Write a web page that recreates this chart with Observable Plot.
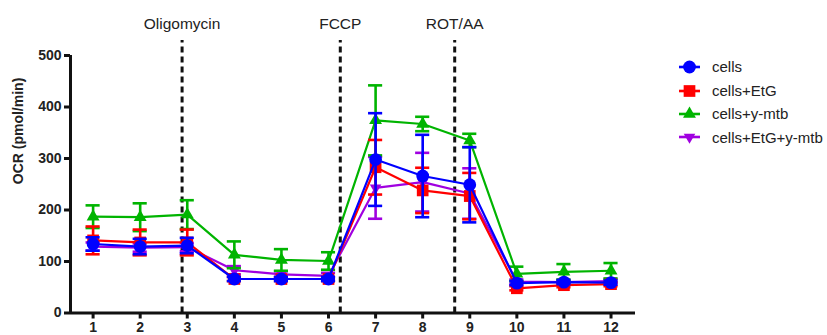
<!DOCTYPE html>
<html><head><meta charset="utf-8">
<script src="https://cdn.jsdelivr.net/npm/d3@7"></script>
<script src="https://cdn.jsdelivr.net/npm/@observablehq/plot@0.6"></script>
<style>
body{margin:0;background:#fff;font-family:"Liberation Sans",Arial,sans-serif;}
#wrap{position:relative;width:827px;height:335px;}
#legend{position:absolute;left:0;top:0;}
.item{position:absolute;display:flex;align-items:center;height:24px;font-size:15px;color:#222;white-space:nowrap;}
.item svg{margin-right:11px;}
#wrap svg.plot text{fill:#222;}
</style></head>
<body><div id="wrap"><div id="legend"></div></div>
<script>
const timepoints = [1,2,3,4,5,6,7,8,9,10,11,12];
const seriesNames = ["cells","cells+EtG","cells+y-mtb","cells+EtG+y-mtb"];
const seriesColors = ["#0000FF","#FF0000","#00B400","#A000E0"];

const cellsMean = [134,129,131,66,66,66,298,266,249,58,60,59];
const cellsSD   = [13,15,15,4,4,4,90,80,73,4,4,4];
const etgMean   = [141,137,137,66,66,66,283,238,227,48,54,56];
const etgSD     = [27,25,25,4,4,4,53,44,45,4,4,4];
const ymtbMean  = [187,186,191,113,103,101,374,367,335,76,80,82];
const ymtbSD    = [22,27,28,26,21,17,68,14,13,14,15,15];
const bothMean  = [129,127,128,83,75,72,243,254,232,61,60,62];
const bothSD    = [8,8,8,8,6,6,60,57,49,4,4,4];

const injections = ["Oligomycin","FCCP","ROT/AA"];
const injectionAt = [2.89,6.25,8.68];
const yTicks = [0,100,200,300,400,500];
const yTitle = "OCR (pmol/min)";

const triangleDown = {
  draw(ctx, size) {
    const y = -Math.sqrt(size / (3 * Math.sqrt(3)));
    ctx.moveTo(0, -2 * y);
    ctx.lineTo(-Math.sqrt(3) * y, y);
    ctx.lineTo(Math.sqrt(3) * y, y);
    ctx.closePath();
  }
};
const seriesSymbols = ["circle","square","triangle",triangleDown];
const seriesR = [6.4,6.6,4.8,4.3];

const means = [cellsMean, etgMean, ymtbMean, bothMean];
const sds = [cellsSD, etgSD, ymtbSD, bothSD];
const tables = seriesNames.map((name, s) => timepoints.map((t, i) => ({
  series: name, t, m: means[s][i], lo: means[s][i] - sds[s][i], hi: means[s][i] + sds[s][i]
})));
const injTable = injections.map((label, i) => ({label, x: injectionAt[i]}));

const drawOrder = [3,2,1,0];
const marks = [];
marks.push(Plot.ruleX(injTable, {x: "x", y1: 0, y2: 529, stroke: "#111", strokeWidth: 3, strokeDasharray: "6,4"}));
marks.push(Plot.text(injTable, {x: "x", y: 561, text: "label", fontSize: 15.5, fill: "#222"}));
const capW = 0.15;
for (const s of drawOrder) {
  const d = tables[s], c = seriesColors[s];
  marks.push(Plot.ruleX(d, {x: "t", y1: "lo", y2: "hi", stroke: c, strokeWidth: 2.6}));
  marks.push(Plot.ruleY(d, {y: "hi", x1: r => r.t - capW, x2: r => r.t + capW, stroke: c, strokeWidth: 2.6}));
  marks.push(Plot.ruleY(d, {y: "lo", x1: r => r.t - capW, x2: r => r.t + capW, stroke: c, strokeWidth: 2.6}));
  marks.push(Plot.line(d, {x: "t", y: "m", stroke: c, strokeWidth: 2.2}));
  marks.push(Plot.dot(d, {x: "t", y: "m", symbol: () => seriesSymbols[s], fill: c, stroke: "none", r: seriesR[s]}));
}
marks.push(Plot.ruleY([0], {stroke: "#111", strokeWidth: 3}));
marks.push(Plot.ruleX([0.52], {y1: 0, y2: 500, stroke: "#111", strokeWidth: 3}));
marks.push(Plot.axisY({ticks: yTicks, tickSize: 6, tickPadding: 3, fontSize: 14, fontWeight: "bold", strokeWidth: 3, stroke: "#111", label: null}));
marks.push(Plot.axisX({ticks: timepoints, tickFormat: d => String(d), tickSize: 6, tickPadding: 3, fontSize: 14, fontWeight: "bold", strokeWidth: 3, stroke: "#111", label: null}));
marks.push(Plot.text([yTitle], {frameAnchor: "left", text: d => d, rotate: -90, dx: -52, fontSize: 14, fontWeight: "bold", fill: "#222"}));

const chart = Plot.plot({
  width: 827, height: 335,
  marginLeft: 70, marginRight: 192, marginTop: 55, marginBottom: 22.5,
  style: {fontFamily: '"Liberation Sans", Arial, sans-serif', background: "white", overflow: "visible"},
  x: {domain: [0.52, 12.52]},
  y: {domain: [0, 500]},
  symbol: {type: "identity"},
  marks
});
chart.classList.add("plot");
document.getElementById("wrap").prepend(chart);

const legend = document.getElementById("legend");
const legendTop = [66.7, 90.5, 113.5, 137.3];
seriesNames.forEach((name, s) => {
  const item = document.createElement("div");
  item.className = "item";
  item.style.left = "678px";
  item.style.top = (legendTop[s] - 12) + "px";
  const sym = d3.create("svg").attr("width", 23).attr("height", 24);
  sym.append("line").attr("x1", 1).attr("x2", 22).attr("y1", 12).attr("y2", 12).attr("stroke", seriesColors[s]).attr("stroke-width", 2.6);
  const typ = typeof seriesSymbols[s] === "string" ? Plot.symbol ? null : null : null;
  const symType = s === 0 ? d3.symbolCircle : s === 1 ? d3.symbolSquare : s === 2 ? d3.symbolTriangle : triangleDown;
  sym.append("path").attr("transform", "translate(11.5,12)")
    .attr("d", d3.symbol(symType, Math.PI * seriesR[s] * seriesR[s])()).attr("fill", seriesColors[s]);
  item.appendChild(sym.node());
  const span = document.createElement("span");
  span.textContent = name;
  item.appendChild(span);
  legend.appendChild(item);
});
</script>
</body></html>
